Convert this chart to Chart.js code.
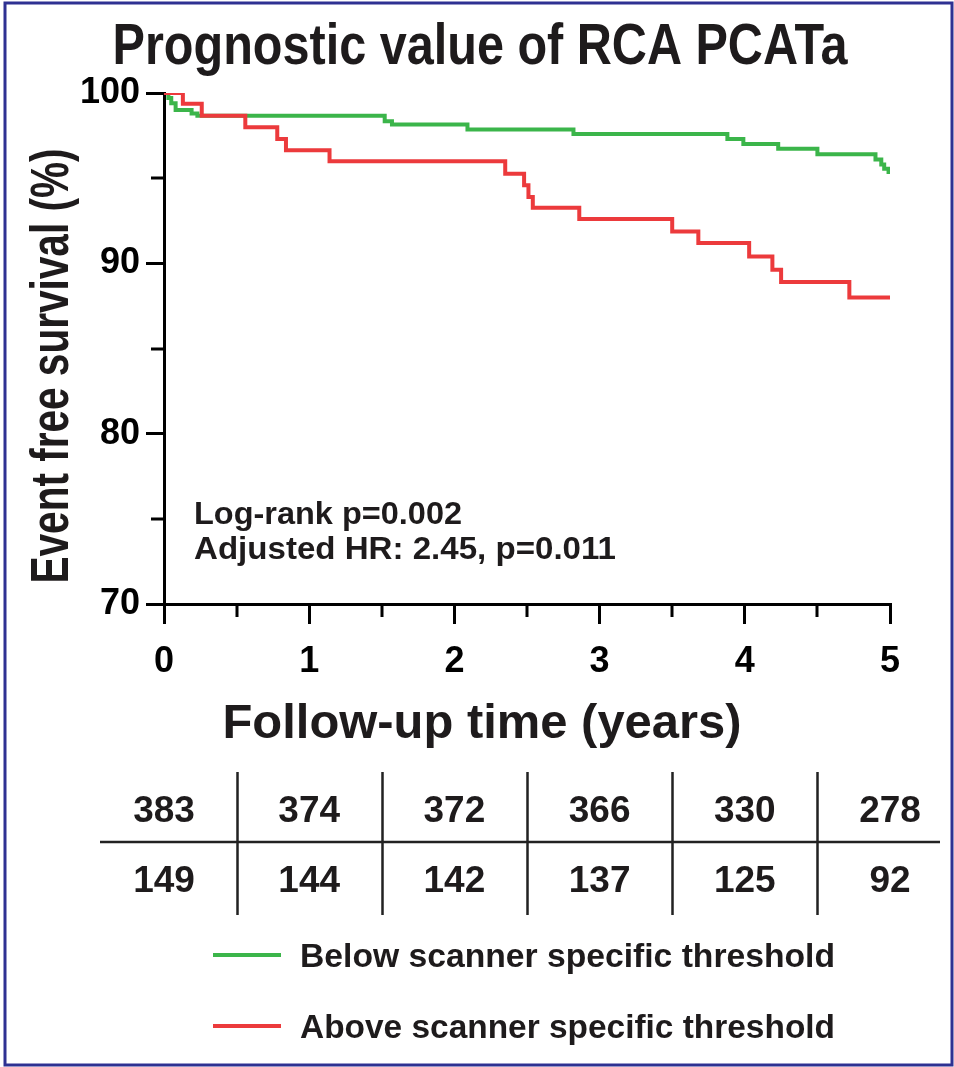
<!DOCTYPE html>
<html>
<head>
<meta charset="utf-8">
<script src="https://cdn.jsdelivr.net/npm/chart.js@4.4.1/dist/chart.umd.min.js"></script>
<style>
  html, body { margin: 0; padding: 0; background: #fff; }
  canvas { display: block; }
</style>
</head>
<body>
<canvas id="km" width="954" height="1067"></canvas>
<script>
const TITLE = 'Prognostic value of RCA PCATa';
const X_TITLE = 'Follow-up time (years)';
const Y_TITLE = 'Event free survival (%)';
const SERIES = ['Below scanner specific threshold', 'Above scanner specific threshold'];
const STATS = ['Log-rank p=0.002', 'Adjusted HR: 2.45, p=0.011'];

const yearTicks = [0, 1, 2, 3, 4, 5];

// Kaplan-Meier steps: time of each drop and survival after it
const belowTimes    = [0, 0.03, 0.05, 0.08, 0.19, 0.23, 1.52, 1.57, 2.09, 2.82, 3.88, 3.99, 4.23, 4.50, 4.90, 4.94, 4.96, 4.99, 5.0];
const belowSurvival = [100, 99.7, 99.4, 99.0, 98.8, 98.67, 98.34, 98.15, 97.85, 97.6, 97.3, 97.0, 96.73, 96.4, 96.1, 95.8, 95.55, 95.36, 95.36];
const aboveTimes    = [0, 0.13, 0.26, 0.56, 0.78, 0.84, 1.14, 2.35, 2.48, 2.51, 2.54, 2.86, 3.50, 3.68, 4.03, 4.19, 4.25, 4.72, 5.0];
const aboveSurvival = [100, 99.37, 98.67, 97.99, 97.3, 96.64, 96.0, 95.26, 94.58, 93.9, 93.27, 92.6, 91.87, 91.19, 90.4, 89.63, 88.9, 88.0, 88.0];

// numbers at risk, one per year tick
const atRiskBelow = [383, 374, 372, 366, 330, 278];
const atRiskAbove = [149, 144, 142, 137, 125, 92];

const GREEN = '#3bb54a';
const RED = '#ec3a3c';
const INK = '#1e1b1c';
const FONT = '"Liberation Sans", Arial, Helvetica, sans-serif';

function pts(xs, ys) { return xs.map((t, i) => ({ x: t, y: ys[i] })); }

// draws bold text squeezed/stretched to a given width
function text(ctx, str, x, y, size, width, align, rotate) {
  ctx.save();
  ctx.font = `bold ${size}px ${FONT}`;
  ctx.fillStyle = INK;
  ctx.textAlign = align || 'left';
  ctx.textBaseline = 'alphabetic';
  const sx = width ? width / ctx.measureText(str).width : 1;
  ctx.translate(x, y);
  if (rotate) ctx.rotate(-Math.PI / 2);
  ctx.scale(sx, 1);
  ctx.fillText(str, 0, 0);
  ctx.restore();
}

const decor = {
  id: 'decor',
  afterDraw(chart) {
    const ctx = chart.ctx;
    const xs = chart.scales.x, ys = chart.scales.y;
    const area = chart.chartArea;

    // minor ticks
    ctx.save();
    ctx.strokeStyle = '#000';
    ctx.lineWidth = 3;
    ctx.beginPath();
    for (let v = 0.5; v < 5; v += 1) {
      const px = Math.round(xs.getPixelForValue(v));
      ctx.moveTo(px, area.bottom); ctx.lineTo(px, area.bottom + 13);
    }
    for (let v = 75; v < 100; v += 10) {
      const py = Math.round(ys.getPixelForValue(v));
      ctx.moveTo(area.left, py); ctx.lineTo(area.left - 13, py);
    }
    ctx.stroke();
    ctx.restore();

    text(ctx, TITLE, 480, 64, 57, 735, 'center');
    text(ctx, Y_TITLE, 68, 366, 53, 435, 'center', true);
    text(ctx, X_TITLE, 482, 738, 49, 519, 'center');
    text(ctx, STATS[0], 194, 524, 31, 268, 'left');
    text(ctx, STATS[1], 194, 559, 31, 422, 'left');

    // numbers-at-risk table
    ctx.save();
    ctx.strokeStyle = '#222';
    ctx.lineWidth = 2.5;
    ctx.beginPath();
    ctx.moveTo(100, 842); ctx.lineTo(940, 842);
    yearTicks.slice(0, -1).forEach(t => {
      const px = Math.round(xs.getPixelForValue(t + 0.5)) + 0.5;
      ctx.moveTo(px, 772); ctx.lineTo(px, 915);
    });
    ctx.stroke();
    ctx.restore();
    yearTicks.forEach((t, i) => {
      const px = xs.getPixelForValue(t);
      text(ctx, String(atRiskBelow[i]), px, 822, 37, null, 'center');
      text(ctx, String(atRiskAbove[i]), px, 892, 37, null, 'center');
    });

    // legend
    [GREEN, RED].forEach((c, i) => {
      const y = i ? 1026 : 955;
      ctx.save();
      ctx.strokeStyle = c;
      ctx.lineWidth = 4;
      ctx.beginPath(); ctx.moveTo(213, y); ctx.lineTo(281, y); ctx.stroke();
      ctx.restore();
      text(ctx, SERIES[i], 300, y + 12, 33, 535, 'left');
    });

    // frame
    ctx.save();
    ctx.strokeStyle = '#2e3192';
    ctx.lineWidth = 3;
    ctx.strokeRect(5, 3, 947, 1062);
    ctx.restore();
  }
};

new Chart(document.getElementById('km'), {
  type: 'line',
  data: {
    datasets: [
      { label: SERIES[0], data: pts(belowTimes, belowSurvival), borderColor: GREEN, borderWidth: 4, stepped: 'before', pointRadius: 0, order: 2 },
      { label: SERIES[1], data: pts(aboveTimes, aboveSurvival), borderColor: RED, borderWidth: 4, stepped: 'before', pointRadius: 0, order: 1 }
    ]
  },
  options: {
    responsive: false,
    animation: false,
    layout: { padding: { left: 0, top: 93, right: 64, bottom: 0 } },
    plugins: { legend: { display: false }, tooltip: { enabled: false } },
    scales: {
      x: {
        type: 'linear', min: 0, max: 5,
        afterFit(s) { s.height = 1067 - 604; s.paddingLeft = 0; s.paddingRight = 0; },
        afterBuildTicks(s) { s.ticks = yearTicks.map(v => ({ value: v })); },
        ticks: { color: '#000', font: { family: FONT, size: 36, weight: 'bold' }, padding: 16 },
        grid: { drawOnChartArea: false, tickLength: 20, lineWidth: 3, color: '#000' },
        border: { width: 3, color: '#000' }
      },
      y: {
        min: 70, max: 100,
        afterFit(s) { s.width = 164; s.paddingTop = 0; s.paddingBottom = 0; },
        ticks: { stepSize: 10, color: '#000', font: { family: FONT, size: 36, weight: 'bold' }, padding: 6 },
        grid: { drawOnChartArea: false, tickLength: 18, lineWidth: 3, color: '#000' },
        border: { width: 3, color: '#000' }
      }
    }
  },
  plugins: [decor]
});
</script>
</body>
</html>
